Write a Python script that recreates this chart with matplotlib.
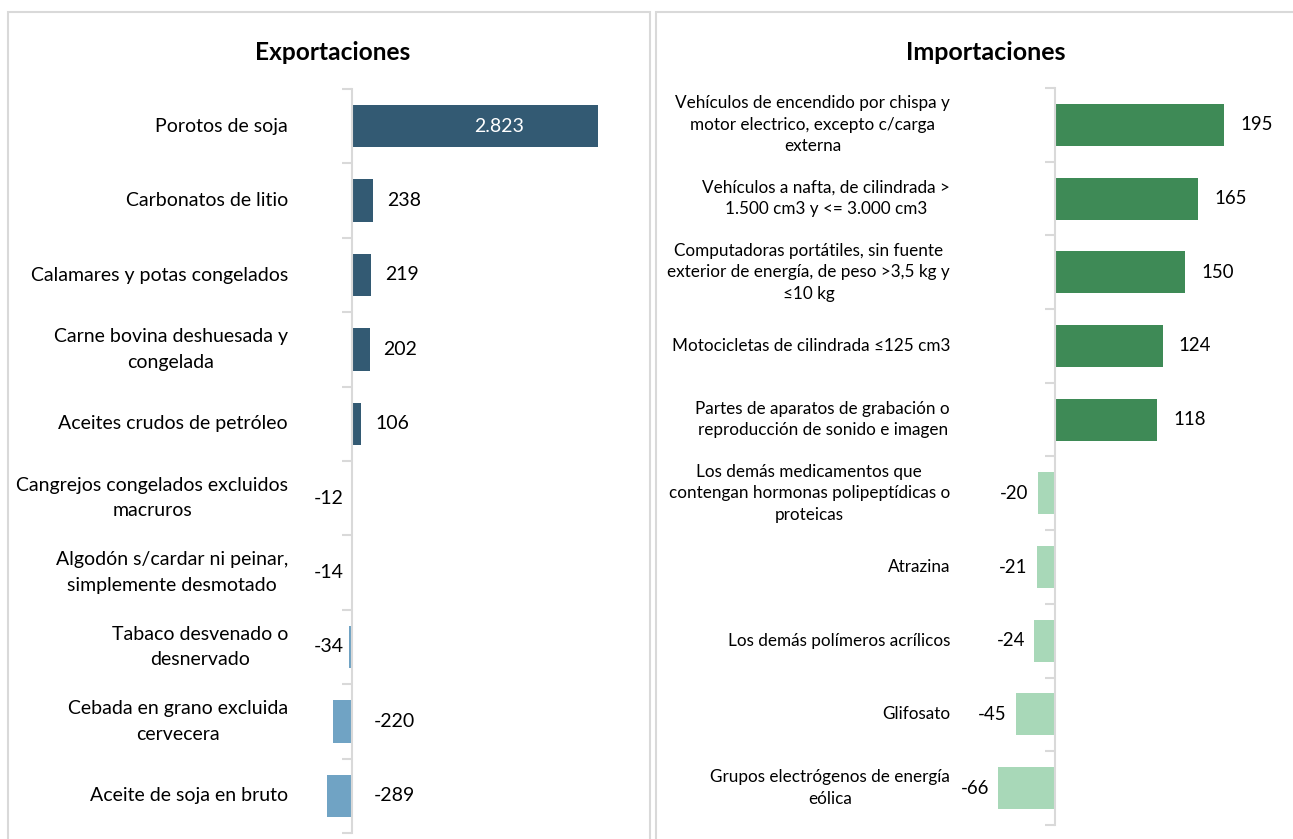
import matplotlib
matplotlib.use("Agg")
import matplotlib.pyplot as plt
from matplotlib.patches import Rectangle
from matplotlib.transforms import blended_transform_factory

# datos: exportaciones
cat_exp = ["Porotos de soja", "Carbonatos de litio", "Calamares y potas congelados",
           "Carne bovina deshuesada y\ncongelada", "Aceites crudos de petróleo",
           "Cangrejos congelados excluidos\nmacruros",
           "Algodón s/cardar ni peinar,\nsimplemente desmotado",
           "Tabaco desvenado o\ndesnervado", "Cebada en grano excluida\ncervecera",
           "Aceite de soja en bruto"]
val_exp = [2823, 238, 219, 202, 106, -12, -14, -34, -220, -289]

# datos: importaciones
cat_imp = ["Vehículos de encendido por chispa y\nmotor electrico, excepto c/carga\nexterna",
           "Vehículos a nafta, de cilindrada >\n1.500 cm3 y <= 3.000 cm3",
           "Computadoras portátiles, sin fuente\nexterior de energía, de peso >3,5 kg y\n≤10 kg",
           "Motocicletas de cilindrada ≤125 cm3",
           "Partes de aparatos de grabación o\nreproducción de sonido e imagen",
           "Los demás medicamentos que\ncontengan hormonas polipeptídicas o\nproteicas",
           "Atrazina", "Los demás polímeros acrílicos", "Glifosato",
           "Grupos electrógenos de energía\neólica"]
val_imp = [195, 165, 150, 124, 118, -20, -21, -24, -45, -66]

AZUL_OSC = "#335A73"
AZUL_CLARO = "#70A3C4"
VERDE_OSC = "#3E8A56"
VERDE_CLARO = "#A8D8B8"
GRIS = "#d9d9d9"

W, H = 1293, 839
fig = plt.figure(figsize=(W / 100, H / 100), dpi=100)
plt.rcParams['font.family'] = ['Lato', 'DejaVu Sans']


def fpx(x, y, w, h):
    # convierte pixeles (origen arriba-izquierda) a fraccion de figura
    return [x / W, 1 - (y + h) / H, w / W, h / H]


# cajas de los paneles
for x0, x1 in [(8, 650), (656, 1310)]:
    fig.patches.append(Rectangle((x0 / W, -0.1), (x1 - x0) / W, 1.1 - 12 / H,
                                 transform=fig.transFigure, fill=False,
                                 edgecolor=GRIS, linewidth=1.5))


def panel(rect, xlim, cats, vals, c_pos, c_neg, lab_x, tipo, tam, tam_val, interl):
    ax = fig.add_axes(fpx(*rect))
    n = len(vals)
    colores = [c_pos if v > 0 else c_neg for v in vals]
    ax.barh(range(n), vals, height=0.57, color=colores, zorder=2)
    ax.set_xlim(*xlim)
    ax.set_ylim(n - 0.5, -0.5)
    for s in ["top", "right", "bottom"]:
        ax.spines[s].set_visible(False)
    ax.spines["left"].set_position(("data", 0))
    ax.spines["left"].set_color(GRIS)
    ax.spines["left"].set_linewidth(1.5)
    ax.set_xticks([])
    ax.set_yticks([i - 0.5 for i in range(n + 1)])
    ax.set_yticklabels([])
    ax.tick_params(axis="y", length=7, width=1.5, color=GRIS, direction="out")
    ax.patch.set_alpha(0)

    tr = blended_transform_factory(fig.transFigure, ax.transData)
    for i, c in enumerate(cats):
        ax.text(lab_x / W, i, c, transform=tr, ha="right", va="center",
                multialignment="center", fontsize=tam, linespacing=interl,
                color="black")

    for i, v in enumerate(vals):
        txt = f"{v:,}".replace(",", ".")
        kw = dict(va="center", fontsize=tam_val, textcoords="offset pixels")
        if tipo == "exp":
            if v > 1000:
                ax.annotate(txt, xy=(v * 0.6, i), xytext=(0, 0), ha="center",
                            color="white", **kw)
            elif v > 0:
                ax.annotate(txt, xy=(v, i), xytext=(14, 0), ha="left", **kw)
            elif v > -100:
                ax.annotate(txt, xy=(0, i), xytext=(-8, 0), ha="right", **kw)
            else:
                ax.annotate(txt, xy=(0, i), xytext=(22, 0), ha="left", **kw)
        else:
            if v > 0:
                ax.annotate(txt, xy=(v, i), xytext=(16, 0), ha="left", **kw)
            else:
                ax.annotate(txt, xy=(v, i), xytext=(-9, 0), ha="right", **kw)
    return ax


panel((300, 89, 320, 744), ((300 - 352) / 0.0871, (620 - 352) / 0.0871),
      cat_exp, val_exp, AZUL_OSC, AZUL_CLARO, 288, "exp", 14, 14, 1.6)
panel((990, 88, 290, 737), ((990 - 1055) / 0.867, (1280 - 1055) / 0.867),
      cat_imp, val_imp, VERDE_OSC, VERDE_CLARO, 950, "imp", 12.3, 13.4, 1.42)

fig.text(333 / W, 1 - 52 / H, "Exportaciones", ha="center", va="center",
         fontsize=17.6, fontweight="bold")
fig.text(986 / W, 1 - 52 / H, "Importaciones", ha="center", va="center",
         fontsize=18, fontweight="bold")

fig.savefig("out.png", dpi=100)
